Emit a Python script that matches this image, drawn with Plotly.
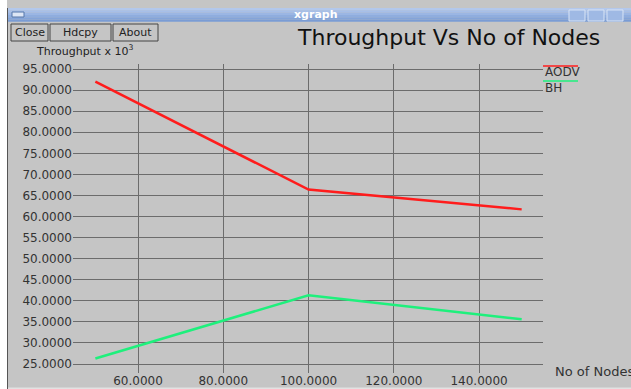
import plotly.graph_objects as go

# ---- data ----
nodes = [50, 100, 150]
aodv = [92.0, 66.4, 61.7]
bh = [26.3, 41.3, 35.6]
series_names = ["AODV", "BH"]
x_ticks = [60, 80, 100, 120, 140]
y_ticks = [25, 30, 35, 40, 45, 50, 55, 60, 65, 70, 75, 80, 85, 90, 95]

W, H = 631, 389
L, R, T, B = 73, 88, 64, 16
PW, PH = W - L - R, H - T - B

def px(x):
    return (x - L) / PW

def py(y):
    return (H - B - y) / PH

BG = "#c5c5c5"
GRID = "#6c6c6c"
TXT = "#333333"
FONT = "DejaVu Sans"

fig = go.Figure()
fig.add_trace(go.Scatter(x=nodes, y=aodv, mode="lines", name=series_names[0],
                         line=dict(color="#ff1c1c", width=2.5)))
fig.add_trace(go.Scatter(x=nodes, y=bh, mode="lines", name=series_names[1],
                         line=dict(color="#1ef07c", width=2.5)))

shapes = []
annotations = []

# window frame: white outside, title bar
shapes.append(dict(type="rect", xref="paper", yref="paper", x0=px(0), x1=px(W + 2),
                   y0=py(0), y1=py(-2), fillcolor="white", line_width=0, layer="above"))
shapes.append(dict(type="rect", xref="paper", yref="paper", x0=px(-2), x1=px(7),
                   y0=py(H + 2), y1=py(-2), fillcolor="white", line_width=0, layer="above"))
shapes.append(dict(type="line", xref="paper", yref="paper", x0=px(7.5), x1=px(7.5),
                   y0=py(H + 2), y1=py(8), line=dict(color="#555555", width=1), layer="above"))
# title bar gradient approximated with bands
bar_cols = ["#b3c8ec", "#a7bfe8", "#9bb6e3", "#8fadde", "#84a4d9", "#7a9cd4"]
y0 = 8
for i, c in enumerate(bar_cols):
    shapes.append(dict(type="rect", xref="paper", yref="paper", x0=px(8), x1=px(W + 2),
                       y0=py(y0 + i * 2.3), y1=py(y0 + (i + 1) * 2.3), fillcolor=c,
                       line_width=0, layer="above"))
# window menu icon
shapes.append(dict(type="rect", xref="paper", yref="paper", x0=px(12), x1=px(24),
                   y0=py(17), y1=py(12), fillcolor="#dde6f5", line=dict(color="#5577aa", width=1),
                   layer="above"))
# window control buttons
for bx in [569, 588, 607]:
    shapes.append(dict(type="rect", xref="paper", yref="paper", x0=px(bx), x1=px(bx + 16),
                       y0=py(21), y1=py(10), fillcolor="#9fb9e4",
                       line=dict(color="#d8e4f6", width=1), layer="above"))
annotations.append(dict(text="<b>xgraph</b>", x=px(316), y=py(14.5), xref="paper", yref="paper",
                        showarrow=False, font=dict(family=FONT, size=11, color="white"),
                        xanchor="center", yanchor="middle"))
# buttons
for label, bx0, bx1 in [("Close", 11, 48), ("Hdcpy", 50, 111), ("About", 113, 158)]:
    shapes.append(dict(type="rect", xref="paper", yref="paper", x0=px(bx0), x1=px(bx1),
                       y0=py(41), y1=py(24), fillcolor=BG,
                       line=dict(color="#444444", width=1), layer="above"))
    annotations.append(dict(text=label, x=px((bx0 + bx1) / 2), y=py(32.5), xref="paper",
                            yref="paper", showarrow=False,
                            font=dict(family=FONT, size=11, color="#222222"),
                            xanchor="center", yanchor="middle"))
# bottom light strip
shapes.append(dict(type="rect", xref="paper", yref="paper", x0=px(8), x1=px(W + 2),
                   y0=py(H + 2), y1=py(387.5), fillcolor="#e2e2e2", line_width=0, layer="below"))

# titles
annotations.append(dict(text="Throughput Vs No of Nodes", x=px(448), y=py(38), xref="paper",
                        yref="paper", showarrow=False,
                        font=dict(family=FONT, size=22, color="#111111"),
                        xanchor="center", yanchor="middle"))
annotations.append(dict(text="Throughput x 10<sup>3</sup>", x=px(34), y=py(51), xref="paper",
                        yref="paper", showarrow=False,
                        font=dict(family=FONT, size=11, color="#222222"),
                        xanchor="left", yanchor="middle"))
annotations.append(dict(text="No of Nodes", x=px(553), y=py(371), xref="paper", yref="paper",
                        showarrow=False, font=dict(family=FONT, size=13, color=TXT),
                        xanchor="left", yanchor="middle"))

# legend (xgraph style: colored line above label)
for name, col, ly in [(series_names[0], "#ff1c1c", 66), (series_names[1], "#1ef07c", 81)]:
    shapes.append(dict(type="line", xref="paper", yref="paper", x0=px(543), x1=px(578),
                       y0=py(ly), y1=py(ly), line=dict(color=col, width=1.5), layer="above"))
    annotations.append(dict(text=name, x=px(543), y=py(ly + 6.5), xref="paper", yref="paper",
                            showarrow=False, font=dict(family=FONT, size=12, color=TXT),
                            xanchor="left", yanchor="middle"))

fig.update_layout(
    width=W, height=H,
    margin=dict(l=L, r=R, t=T, b=B, pad=0, autoexpand=False),
    paper_bgcolor=BG, plot_bgcolor=BG,
    showlegend=False,
    shapes=shapes, annotations=annotations,
    xaxis=dict(range=[44.75, 155.0], tickvals=x_ticks,
               ticktext=[f"{v:.4f}" for v in x_ticks], automargin=False,
               showgrid=True, gridcolor=GRID, gridwidth=1, zeroline=False, showline=False,
               ticks="", tickfont=dict(family=FONT, size=12, color=TXT),
               ticklabelstandoff=-1),
    yaxis=dict(range=[22.87, 96.2], tickvals=y_ticks,
               ticktext=[f"{v:.4f}" for v in y_ticks], automargin=False,
               showgrid=True, gridcolor=GRID, gridwidth=1, zeroline=False, showline=False,
               ticks="", tickfont=dict(family=FONT, size=12, color=TXT),
               ticklabelstandoff=0),
)

fig.write_html("out.html", config={"displayModeBar": False},
               post_script="document.body.style.margin='0px';document.body.style.overflow='hidden';")
